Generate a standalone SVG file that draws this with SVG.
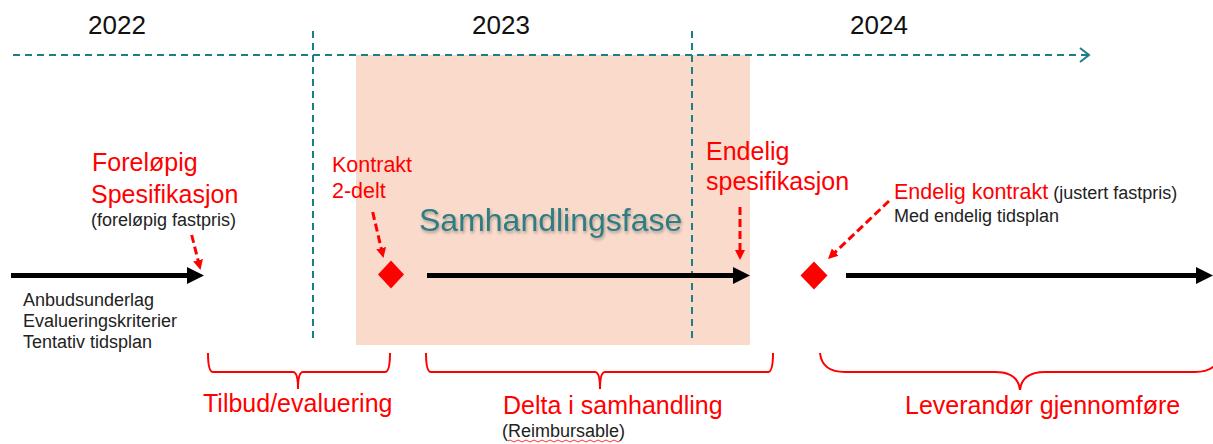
<svg xmlns="http://www.w3.org/2000/svg" width="1213" height="444" viewBox="0 0 1213 444">
<style>
text{font-family:"Liberation Sans",Arial,sans-serif}
.yr{font-size:26px;fill:#111}
.big{font-size:25px;fill:#ff0000}
.mid{font-size:21.5px;fill:#ff0000}
.sm{font-size:18px;fill:#222}
.lbl{font-size:25px;fill:#ff0000}
.grid{stroke:#1a7f87;stroke-width:2;fill:none}
.blk{stroke:#000;stroke-width:5;fill:none;marker-end:url(#bh)}
.rd{stroke:#ff0000;stroke-width:3;stroke-dasharray:8 4;fill:none;marker-end:url(#rh)}
.brace{stroke:#ff0000;stroke-width:2;fill:none}
.dia{fill:#ff0000}
</style>
<defs>
<marker id="bh" markerUnits="userSpaceOnUse" markerWidth="18" markerHeight="18" viewBox="0 0 18 18" refX="1" refY="9" orient="auto"><path d="M0,0.5 L17,9 L0,17.5 z" fill="#000"/></marker>
<marker id="rh" markerUnits="userSpaceOnUse" markerWidth="11" markerHeight="11" viewBox="0 0 11 11" refX="1" refY="5.5" orient="auto"><path d="M0,0.5 L10,5.5 L0,10.5 z" fill="#ff0000"/></marker>
<filter id="sh" x="-10%" y="-30%" width="120%" height="160%"><feDropShadow dx="1" dy="2" stdDeviation="1.5" flood-color="#000" flood-opacity="0.3"/></filter>
</defs>
<rect id="phase" x="356" y="55" width="394" height="290" fill="#f9dacb"/>
<g id="timeline">
<line class="grid" x1="13" y1="55" x2="1088" y2="55" stroke-dasharray="7 5"/>
<polyline class="grid" points="1080,48 1089,55 1080,62"/>
<line class="grid" x1="313" y1="31" x2="313" y2="342" stroke-dasharray="7 5"/>
<line class="grid" x1="692" y1="31" x2="692" y2="342" stroke-dasharray="7 5"/>
<text class="yr" x="88" y="34">2022</text>
<text class="yr" x="472" y="34">2023</text>
<text class="yr" x="850" y="34">2024</text>
</g>
<g id="connectors">
<line class="blk" x1="11" y1="275.5" x2="188" y2="275.5"/>
<line class="blk" x1="427" y1="275.5" x2="734" y2="275.5"/>
<line class="blk" x1="846" y1="275.5" x2="1197" y2="275.5"/>
<line class="rd" x1="191.7" y1="235" x2="198.3" y2="261.3"/>
<line class="rd" x1="372.7" y1="212" x2="381.4" y2="249.2"/>
<line class="rd" x1="740" y1="207" x2="740" y2="251"/>
<line class="rd" x1="889" y1="201" x2="834.5" y2="252.8"/>
</g>
<g id="n-forelopig">
<text class="big" x="92" y="171">Foreløpig</text>
<text class="big" x="91" y="203">Spesifikasjon</text>
<text class="sm" x="91" y="226">(foreløpig fastpris)</text>
</g>
<g id="n-anbud">
<text class="sm" x="23" y="306">Anbudsunderlag</text>
<text class="sm" x="23" y="327">Evalueringskriterier</text>
<text class="sm" x="23" y="348">Tentativ tidsplan</text>
</g>
<g id="n-kontrakt">
<text class="mid" x="332" y="172">Kontrakt</text>
<text class="mid" x="332" y="198">2-delt</text>
<path class="dia" d="M391,260.5 L404,274.5 L391,288.5 L378,274.5 z"/>
</g>
<g id="n-samhandlingsfase">
<text x="419" y="231" font-size="32" fill="#2e7d82" filter="url(#sh)">Samhandlingsfase</text>
</g>
<g id="n-endelig-spes">
<text class="big" x="706" y="160">Endelig</text>
<text class="big" x="706" y="190">spesifikasjon</text>
</g>
<g id="n-endelig-kontrakt">
<text x="894" y="199"><tspan class="mid">Endelig kontrakt</tspan><tspan class="sm" dx="5">(justert fastpris)</tspan></text>
<text class="sm" x="894" y="222">Med endelig tidsplan</text>
<path class="dia" d="M814,261.5 L827.5,275.5 L814,289.5 L800.5,275.5 z"/>
</g>
<g id="n-tilbud">
<path class="brace" d="M208,353 Q208,372 213,372 L293,372 Q298,372 298,389 Q298,372 303,372 L385,372 Q390,372 390,353"/>
<text class="lbl" x="203" y="412">Tilbud/evaluering</text>
</g>
<g id="n-delta">
<path class="brace" d="M426,353 Q426,372 431,372 L595,372 Q600,372 600,389 Q600,372 605,372 L768,372 Q773,372 773,353"/>
<text class="lbl" x="503" y="414">Delta i samhandling</text>
<text class="sm" x="502" y="437">(Reimbursable)</text>
<path d="M508,441 q2,-2 4,0 t4,0 t4,0 t4,0 t4,0 t4,0 t4,0 t4,0 t4,0 t4,0 t4,0 t4,0 t4,0 t4,0 t4,0 t4,0 t4,0 t4,0 t4,0 t4,0 t4,0 t4,0 t4,0 t4,0 t4,0 t4,0 t4,0 t4,0" stroke="#ff0000" stroke-width="0.8" fill="none"/>
</g>
<g id="n-leverandor">
<path class="brace" d="M820,353 Q822,372 845,372 L995,372 Q1018,372 1020,390 Q1022,372 1045,372 L1195,372 Q1218,372 1220,353"/>
<text class="lbl" x="905" y="414">Leverandør gjennomføre</text>
</g>
</svg>
